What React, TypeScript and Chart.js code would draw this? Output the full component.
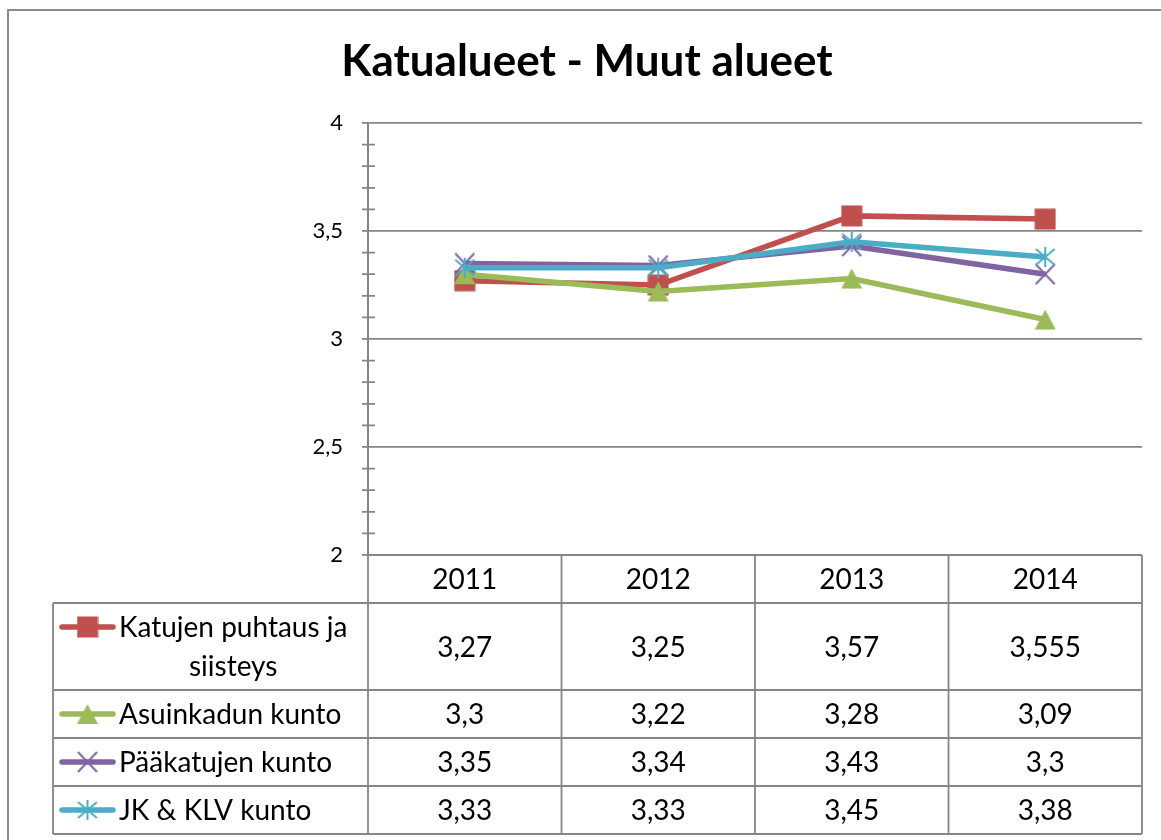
import React, { useEffect, useRef } from 'react';
import { Chart, registerables } from 'chart.js';

Chart.register(...registerables);

// ---- data ----
const chartTitle = 'Katualueet - Muut alueet';
const years = ['2011', '2012', '2013', '2014'];
const puhtausLabel = ['Katujen puhtaus ja', 'siisteys'];
const asuinkatuLabel = ['Asuinkadun kunto'];
const paakatuLabel = ['Pääkatujen kunto'];
const jkklvLabel = ['JK & KLV kunto'];
const puhtaus = [3.27, 3.25, 3.57, 3.555];
const asuinkatu = [3.3, 3.22, 3.28, 3.09];
const paakatu = [3.35, 3.34, 3.43, 3.3];
const jkklv = [3.33, 3.33, 3.45, 3.38];
const yMin = 2;
const yMax = 4;
const yStep = 0.5;
const yMinorStep = 0.1;

// ---- styles ----
const RED = '#C0504D';
const GREEN = '#9BBB59';
const PURPLE = '#8064A2';
const CYAN = '#4BACC6';
const GRID = '#868686';
const FONT = 'Lato, "Open Sans", sans-serif';

const fi = (v: number) => String(v).replace('.', ',');

function makeMarker(kind: string, color: string): HTMLCanvasElement {
  const c = document.createElement('canvas');
  c.width = 22;
  c.height = 22;
  const g = c.getContext('2d')!;
  g.fillStyle = color;
  g.strokeStyle = color;
  g.lineWidth = 2;
  if (kind === 'square') {
    g.fillRect(0.5, 0.5, 21, 21);
  } else if (kind === 'triangle') {
    g.beginPath();
    g.moveTo(11, 1);
    g.lineTo(21.5, 21);
    g.lineTo(0.5, 21);
    g.closePath();
    g.fill();
  } else if (kind === 'x') {
    g.beginPath();
    g.moveTo(1.5, 1);
    g.lineTo(20.5, 21);
    g.moveTo(20.5, 1);
    g.lineTo(1.5, 21);
    g.stroke();
  } else {
    g.beginPath();
    g.moveTo(11, 1);
    g.lineTo(11, 21);
    g.moveTo(1.5, 3);
    g.lineTo(20.5, 19);
    g.moveTo(20.5, 3);
    g.lineTo(1.5, 19);
    g.stroke();
  }
  return c;
}

export default function App() {
  const ref = useRef<HTMLCanvasElement>(null);

  useEffect(() => {
    const canvas = ref.current!;
    const rows = [
      { lines: puhtausLabel, data: puhtaus, color: RED, marker: makeMarker('square', RED) },
      { lines: asuinkatuLabel, data: asuinkatu, color: GREEN, marker: makeMarker('triangle', GREEN) },
      { lines: paakatuLabel, data: paakatu, color: PURPLE, marker: makeMarker('x', PURPLE) },
      { lines: jkklvLabel, data: jkklv, color: CYAN, marker: makeMarker('star', CYAN) },
    ];

    const tablePlugin = {
      id: 'dataTable',
      afterDraw(chart: any) {
        const { ctx, chartArea: ca, scales } = chart;
        const xs = scales.x;
        const ys = scales.y;
        ctx.save();

        // outer frame
        ctx.strokeStyle = '#8a8a8a';
        ctx.lineWidth = 2;
        ctx.strokeRect(8, 10, chart.width + 40, chart.height + 40);

        // title
        ctx.fillStyle = '#000';
        ctx.font = `bold 44px ${FONT}`;
        ctx.textAlign = 'center';
        ctx.textBaseline = 'alphabetic';
        ctx.fillText(chartTitle, 587, 76);

        // minor ticks
        ctx.strokeStyle = GRID;
        ctx.lineWidth = 1.8;
        const nMinor = Math.round((yMax - yMin) / yMinorStep);
        const perMajor = Math.round(yStep / yMinorStep);
        ctx.beginPath();
        for (let i = 0; i <= nMinor; i++) {
          if (i % perMajor === 0) continue;
          const yy = ys.getPixelForValue(yMin + i * yMinorStep);
          ctx.moveTo(ca.left - 6, yy);
          ctx.lineTo(ca.left + 7, yy);
        }
        ctx.stroke();

        // table geometry
        const step = xs.getPixelForValue(1) - xs.getPixelForValue(0);
        const edges = years.map((_, i) => xs.getPixelForValue(i) - step / 2);
        edges.push(xs.getPixelForValue(years.length - 1) + step / 2);
        const headerTop = ca.bottom;
        const rowH = 48;
        const lineH = 39;
        const tableLeft = 53;
        const tops: number[] = [];
        let yy = headerTop + rowH;
        rows.forEach((r) => {
          tops.push(yy);
          yy += rowH + (r.lines.length - 1) * lineH;
        });
        const bottom = yy;

        ctx.beginPath();
        ctx.moveTo(ca.left, headerTop);
        ctx.lineTo(ca.right, headerTop);
        [...tops, bottom].forEach((t) => {
          ctx.moveTo(tableLeft, t);
          ctx.lineTo(ca.right, t);
        });
        ctx.moveTo(tableLeft, tops[0]);
        ctx.lineTo(tableLeft, bottom);
        edges.forEach((x, i) => {
          ctx.moveTo(x, i === 0 ? ca.top : headerTop);
          ctx.lineTo(x, bottom);
        });
        ctx.stroke();

        // header text
        ctx.fillStyle = '#000';
        ctx.font = `28px ${FONT}`;
        ctx.textAlign = 'center';
        ctx.textBaseline = 'middle';
        years.forEach((yr, i) => {
          ctx.fillText(yr, xs.getPixelForValue(i), headerTop + rowH / 2 + 1);
        });

        // rows
        rows.forEach((r, ri) => {
          const top = tops[ri];
          const h = rowH + (r.lines.length - 1) * lineH;
          const cy = top + h / 2 + 1;
          r.data.forEach((v, i) => {
            ctx.fillText(fi(v), xs.getPixelForValue(i), cy);
          });
          const blockLeft = tableLeft + 66;
          const blockW = Math.max(...r.lines.map((l) => ctx.measureText(l).width));
          const firstY = cy - ((r.lines.length - 1) * lineH) / 2;
          r.lines.forEach((l, li) => {
            ctx.fillText(l, blockLeft + blockW / 2, firstY + li * lineH);
          });
          // legend key
          ctx.strokeStyle = r.color;
          ctx.lineWidth = 5.5;
          ctx.lineCap = 'round';
          ctx.beginPath();
          ctx.moveTo(tableLeft + 9, firstY - 1);
          ctx.lineTo(tableLeft + 60, firstY - 1);
          ctx.stroke();
          ctx.drawImage(r.marker, tableLeft + 34.5 - 11, firstY - 1 - 11);
        });

        ctx.restore();
      },
    };

    const orders = [4, 3, 2, 1];
    const chart = new Chart(canvas, {
      type: 'line',
      data: {
        labels: years,
        datasets: rows.map((r, i) => ({
          label: r.lines.join(' '),
          data: r.data,
          borderColor: r.color,
          backgroundColor: r.color,
          borderWidth: 5.5,
          pointStyle: r.marker,
          pointRadius: 10,
          tension: 0,
          fill: false,
          order: orders[i],
        })),
      },
      options: {
        responsive: false,
        animation: false,
        layout: { padding: { left: 0, right: 19, top: 123, bottom: 285 } },
        plugins: {
          legend: { display: false },
          tooltip: { enabled: false },
          title: { display: false },
        },
        scales: {
          x: { type: 'category', display: false, offset: true },
          y: {
            min: yMin,
            max: yMax,
            ticks: {
              stepSize: yStep,
              color: '#000',
              padding: 19,
              font: { family: FONT, size: 22 },
              callback: (v: any) => fi(Number(v)),
            },
            grid: { color: GRID, lineWidth: 1.8, tickLength: 6, drawTicks: true },
            border: { color: GRID, width: 1.8 },
            afterFit: (s: any) => {
              s.width = 368;
            },
          },
        },
      },
      plugins: [tablePlugin],
    } as any);

    let alive = true;
    if ((document as any).fonts) {
      Promise.all([
        (document as any).fonts.load(`bold 44px Lato`),
        (document as any).fonts.load(`28px Lato`),
      ]).then(() => {
        if (alive) chart.update();
      }).catch(() => {});
    }

    return () => {
      alive = false;
      chart.destroy();
    };
  }, []);

  return (
    <div style={{ position: 'absolute', left: 0, top: 0, width: 1161, height: 840, background: '#fff' }}>
      <canvas ref={ref} width={1161} height={840} style={{ display: 'block' }} />
    </div>
  );
}
